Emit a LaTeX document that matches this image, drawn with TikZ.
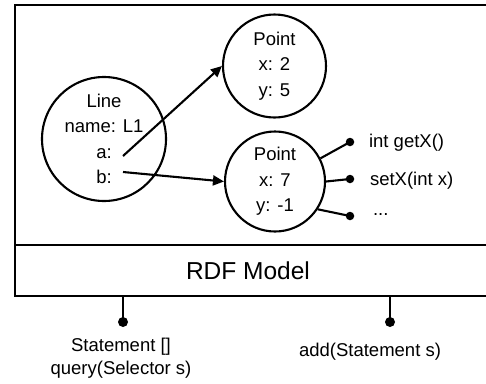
\documentclass[tikz,border=0pt]{standalone}
\usepackage{fontspec}
\setmainfont{Liberation Sans}
\usetikzlibrary{arrows.meta}
\begin{document}
\begin{tikzpicture}[x=1pt,y=-1pt,line width=2.1pt,
  obj/.style={draw,circle,inner sep=0pt,align=center,font=\fontsize{18.5}{25.5}\selectfont},
  dotnode/.style={circle,fill=black,inner sep=0pt,minimum size=#1},
  lbl/.style={inner sep=0pt,font=\fontsize{18.5}{23}\selectfont},
  arr/.style={-{Triangle[length=11pt,width=10pt]}}]
\useasboundingbox (0,0) rectangle (486,383);
% model box (right edge beyond picture)
\draw (486,5) -- (15,5) -- (15,296) -- (486,296);
\draw (15,245) -- (486,245);
\node[font=\fontsize{24.5}{28}\selectfont] (rdf) at (248,271) {RDF Model};
% objects
\node[obj,minimum size=124pt] (line) at (104,139) {Line\\name: L1\\a:\\b:};
\node[obj,minimum size=103pt] (tp) at (274.5,66) {Point\\x: 2\\y: 5};
\node[obj,minimum size=100pt] (bp) at (275,181.5) {Point\\x: 7\\y: -1};
\coordinate (astart) at (123,156);
\coordinate (bstart) at (123,172);
\draw[arr] (astart) -- (tp.west);
\draw[arr] (bstart) -- (bp.west);
% methods
\node[dotnode=8.5pt] (m1) at (350,142) {};
\node[dotnode=8.5pt] (m2) at (350,179) {};
\node[dotnode=8.5pt] (m3) at (350,216) {};
\draw (bp.27) -- (m1.center);
\draw (bp.0) -- (m2.center);
\draw (bp.-33) -- (m3.center);
\node[lbl,anchor=west] (l1) at (368,143) {int getX()};
\node[lbl,anchor=west] (l2) at (369,181) {setX(int x)};
\node[lbl,anchor=west] (l3) at (372,215) {...};
% interface
\coordinate (q0) at (123,296);
\coordinate (a0) at (390,296);
\node[dotnode=10pt] (qd) at (123,322) {};
\node[dotnode=10pt] (ad) at (390,322) {};
\draw (q0) -- (qd.center);
\draw (a0) -- (ad.center);
\node[lbl,align=center] (ql) at (121,358) {Statement []\\query(Selector s)};
\node[lbl] (al) at (370,352) {add(Statement s)};
\end{tikzpicture}
\end{document}
